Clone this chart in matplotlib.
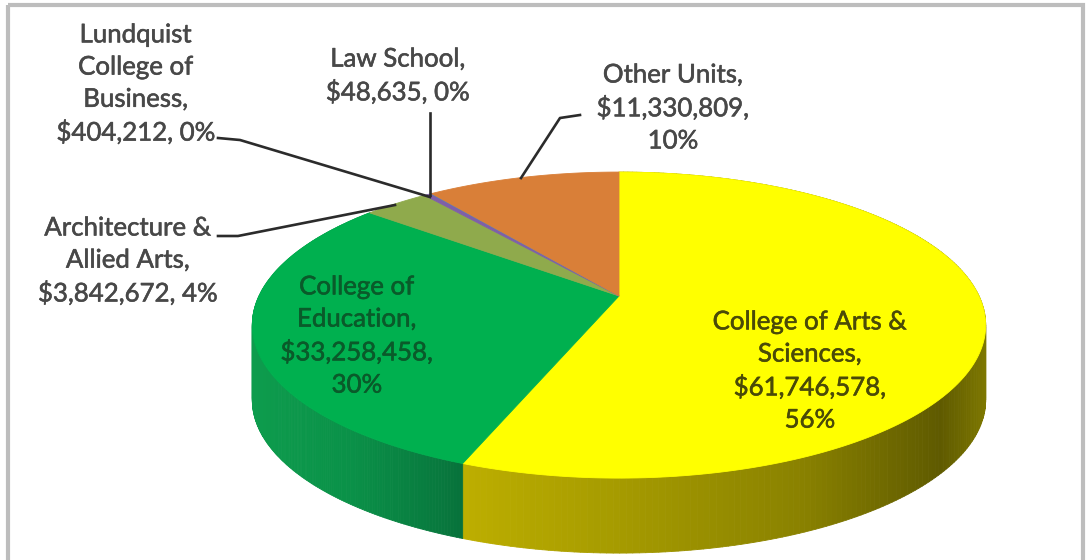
# 3D style pie of funding by unit
import numpy as np
import matplotlib.pyplot as plt
import matplotlib.patheffects as pe
from matplotlib.collections import PolyCollection
from matplotlib.patches import Rectangle

plt.rcParams['font.family'] = ['Lato', 'DejaVu Sans']

# Slices, clockwise from 12 o'clock
units = ['College of Arts & Sciences', 'College of Education', 'Architecture & Allied Arts',
         'Lundquist College of Business', 'Law School', 'Other Units']
amounts = [61746578, 33258458, 3842672, 404212, 48635, 11330809]
percents = [56, 30, 4, 0, 0, 10]
slice_colors = ['#ffff00', '#00b04f', '#8faa4c', '#7f5fa8', '#4f80bd', '#d97f38']

# the label text is broken up the same way as in the picture
label_lines = [['College of Arts &', 'Sciences,', '${:,},', '{}%'],
               ['College of', 'Education,', '${:,},', '{}%'],
               ['Architecture &', 'Allied Arts,', '${:,}, {}%'],
               ['Lundquist', 'College of', 'Business,', '${:,}, {}%'],
               ['Law School,', '${:,}, {}%'],
               ['Other Units,', '${:,},', '{}%']]
label_pos = [(810, 371), (357, 336), (128, 261), (136, 84), (398, 76), (673, 108)]
label_colors = ['#4a4a08', '#0a5a2a', '#484848', '#484848', '#484848', '#484848']

# Perspective of the disc, in pixels
cx, cy = 619, 296
rx, ry = 360, 147.5
persp = 0.19
depth = 75

# colour of the pie wall from left to right
wall_stops = {0: ([465, 600, 800, 940, 987], ['#bdae00', '#a89d00', '#8a8200', '#5f5a00', '#7f7900']),
              1: ([253, 350, 440, 465], ['#0d9c4d', '#0a9148', '#08793e', '#07703a'])}


def rim(angle):
    u, v = np.sin(angle), np.cos(angle)
    w = 1 + persp * v
    return cx + rx * u / w, cy - ry * v / w


def hex_rgb(c):
    return [int(c[i:i + 2], 16) / 255 for i in (1, 3, 5)]


fig = plt.figure(figsize=(10.89, 5.6), dpi=100)
ax = fig.add_axes([0, 0, 1, 1])
ax.set_xlim(0, 1089)
ax.set_ylim(560, 0)
ax.axis('off')

# chart frame
ax.add_patch(Rectangle((8, 5), 1075, 570, fill=False, ec='#bdbdbd', lw=3))

frac = np.array(amounts) / sum(amounts)
edges = 2 * np.pi * np.concatenate([[0], np.cumsum(frac)])

# walls first, then the top faces over them
for i, stops in wall_stops.items():
    t = np.linspace(edges[i], edges[i + 1], 240)
    x, y = rim(t)
    polys, cols = [], []
    for j in range(len(t) - 1):
        polys.append([(x[j], y[j]), (x[j + 1], y[j + 1]),
                      (x[j + 1], y[j + 1] + depth), (x[j], y[j] + depth)])
        mid = (x[j] + x[j + 1]) / 2
        rgb = [np.interp(mid, stops[0], [hex_rgb(c)[k] for c in stops[1]]) for k in range(3)]
        cols.append(rgb)
    ax.add_collection(PolyCollection(polys, facecolors=cols, edgecolors=cols, linewidths=0.6, zorder=2))

for i in range(len(units)):
    t = np.linspace(edges[i], edges[i + 1], 200)
    x, y = rim(t)
    ax.fill(np.r_[cx, x], np.r_[cy, y], color=slice_colors[i], lw=0.6, zorder=3)

# Leader lines
leaders = [([218, 240, 430], [138, 140, 197]),
           ([430, 430], [113, 195]),
           ([580, 560, 521], [115, 118, 178]),
           ([218, 238, 395], [236, 236, 205])]
for lx, ly in leaders:
    ax.plot(lx, ly, color='#2b2b2b', lw=1.9, zorder=4)

# Labels
for i in range(len(units)):
    s = '\n'.join(label_lines[i]).format(amounts[i], percents[i])
    ax.text(label_pos[i][0], label_pos[i][1], s, ha='center', va='center', fontsize=18.6,
            linespacing=1.36, color=label_colors[i], zorder=5,
            path_effects=[pe.withStroke(linewidth=0.4, foreground=label_colors[i])])

fig.savefig('out.png', dpi=100)
